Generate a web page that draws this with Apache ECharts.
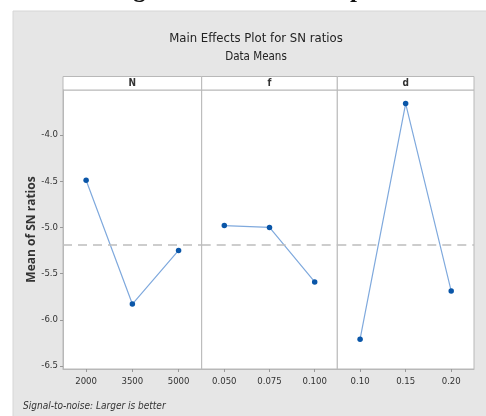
<!DOCTYPE html>
<html><head><meta charset="utf-8">
<script src="https://cdn.jsdelivr.net/npm/echarts@6/dist/echarts.min.js"></script>
<style>html,body{margin:0;padding:0;background:#fff;}#c{width:486px;height:416px;}</style>
</head><body><div id="c"></div>
<script>
var factors = ['N', 'f', 'd'];
var catsN = ['2000', '3500', '5000'];
var catsF = ['0.050', '0.075', '0.100'];
var catsD = ['0.10', '0.15', '0.20'];
var valsN = [-4.49, -5.83, -5.25];
var valsF = [-4.98, -5.00, -5.59];
var valsD = [-6.21, -3.66, -5.69];
var yTicks = [-4.0, -4.5, -5.0, -5.5, -6.0, -6.5];
var yMin = -6.533, yMax = -3.513;

var allVals = valsN.concat(valsF, valsD);
var grandMean = allVals.reduce(function(a,b){return a+b;},0)/allVals.length;

var cats = [catsN, catsF, catsD];
var vals = [valsN, valsF, valsD];
var FONT = '"Liberation Sans Narrow","DejaVu Sans Condensed","Liberation Sans",sans-serif';
var panels = [{left:63, width:138.7},{left:201.7, width:135.6},{left:337.3, width:136.7}];
var gridTop = 90, gridHeight = 279;

var grids=[], xAxes=[], yAxes=[], series=[], graphics=[];
graphics.push({type:'rect', shape:{x:13,y:11,width:480,height:410}, style:{fill:'#e6e6e6', stroke:'#d6d6d6', lineWidth:1}, z:-10});
graphics.push({type:'text', x:111, y:-9.5, style:{text:'Figure 5. Main effects plot', font:'bold 25px "Liberation Serif",serif', fill:'#111', verticalAlign:'middle'}, z:-5});

panels.forEach(function(p,i){
  grids.push({left:p.left, top:gridTop, width:p.width, height:gridHeight, show:true, backgroundColor:'#fff', borderColor:'#b8b8b8', borderWidth:1, containLabel:false});
  xAxes.push({type:'category', gridIndex:i, data:cats[i], boundaryGap:true,
    axisLine:{show:true, lineStyle:{color:'#b8b8b8'}},
    axisTick:{show:true, alignWithLabel:true, length:3, lineStyle:{color:'#999'}},
    axisLabel:{fontSize:9.5, color:'#333', fontFamily:FONT, margin:8},
    splitLine:{show:false}});
  yAxes.push({type:'value', gridIndex:i, min:yMin, max:yMax,
    axisLine:{show:i===0, lineStyle:{color:'#b8b8b8'}},
    axisTick:{show:i===0, length:3, customValues:yTicks, lineStyle:{color:'#999'}},
    axisLabel:{show:i===0, customValues:yTicks, fontSize:9.5, color:'#333', fontFamily:FONT, margin:5,
      formatter:function(v){return Number(v).toFixed(1);}},
    splitLine:{show:false},
    name: i===0 ? 'Mean of SN ratios' : '', nameLocation:'middle', nameGap:24, nameRotate:90,
    nameTextStyle:{fontSize:12, fontWeight:'bold', color:'#333', fontFamily:'"Open Sans","DejaVu Sans",sans-serif'}});
  series.push({type:'line', xAxisIndex:i, yAxisIndex:i, data:vals[i],
    symbol:'circle', symbolSize:5.5, lineStyle:{color:'#7fa9dd', width:1.2},
    itemStyle:{color:'#0a56a8'}, animation:false,
    markLine:{silent:true, symbol:'none', label:{show:false},
      lineStyle:{color:'#bdbdbd', type:[9,6], width:1.6}, data:[{yAxis:grandMean}]}});
  graphics.push({type:'rect', shape:{x:p.left, y:76.5, width:p.width, height:13.5}, style:{fill:'#fff', stroke:'#b8b8b8', lineWidth:1}});
  graphics.push({type:'text', x:p.left+p.width/2, y:83.5, style:{text:factors[i], font:'bold 10px '+FONT, fill:'#333', align:'center', verticalAlign:'middle'}});
});

graphics.push({type:'text', x:256, y:39, style:{text:'Main Effects Plot for SN ratios', font:'13px '+FONT, fill:'#222', align:'center', verticalAlign:'middle'}});
graphics.push({type:'text', x:256, y:57, style:{text:'Data Means', font:'11.5px '+FONT, fill:'#222', align:'center', verticalAlign:'middle'}});
graphics.push({type:'text', x:23, y:406, style:{text:'Signal-to-noise: Larger is better', font:'italic 10px '+FONT, fill:'#333', align:'left', verticalAlign:'middle'}});

var chart = echarts.init(document.getElementById('c'), null, {renderer:'canvas'});
chart.setOption({animation:false, backgroundColor:'#fff', grid:grids, xAxis:xAxes, yAxis:yAxes, series:series, graphic:graphics});
</script></body></html>
